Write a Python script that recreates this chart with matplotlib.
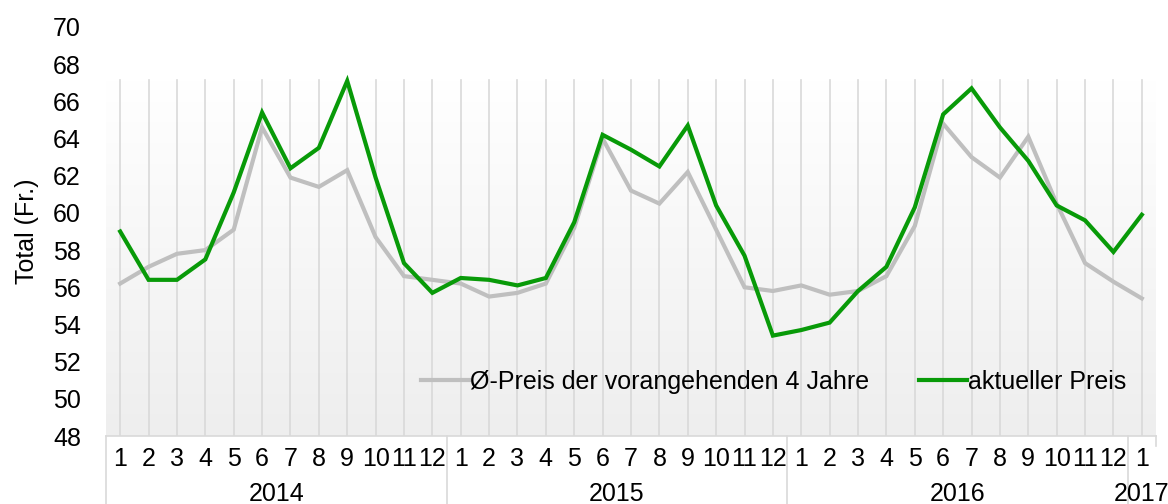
import matplotlib
matplotlib.use('Agg')
import matplotlib.pyplot as plt
import matplotlib.transforms as mtransforms
import numpy as np

# monthly values, Jan 2014 .. Jan 2017
years = ['2014', '2015', '2016', '2017']
months_per_year = [12, 12, 12, 1]
month_labels = [str(m) for n in months_per_year for m in range(1, n + 1)]

avg_price = [56.2, 57.1, 57.8, 58.0, 59.1, 64.6, 61.9, 61.4, 62.3, 58.7, 56.6, 56.4,
             56.2, 55.5, 55.7, 56.2, 59.2, 64.0, 61.2, 60.5, 62.2, 59.1, 56.0, 55.8,
             56.1, 55.6, 55.8, 56.6, 59.3, 64.8, 63.0, 61.9, 64.1, 60.5, 57.3, 56.3,
             55.4]
cur_price = [59.0, 56.4, 56.4, 57.5, 61.1, 65.4, 62.4, 63.5, 67.1, 61.9, 57.3, 55.7,
             56.5, 56.4, 56.1, 56.5, 59.5, 64.2, 63.4, 62.5, 64.7, 60.4, 57.7, 53.4,
             53.7, 54.1, 55.8, 57.1, 60.3, 65.3, 66.7, 64.6, 62.8, 60.4, 59.6, 57.9,
             59.9]

legend_labels = ['Ø-Preis der vorangehenden 4 Jahre', 'aktueller Preis']

plt.rcParams['font.family'] = ['Liberation Sans', 'DejaVu Sans']
plt.rcParams['font.size'] = 18

fig = plt.figure(figsize=(11.68, 5.04), dpi=100)
ax = fig.add_axes([106 / 1168, 68 / 504, 1050 / 1168, 409 / 504])

x = np.arange(len(month_labels))
ax.set_xlim(-0.5, len(month_labels) - 0.5)
ax.set_ylim(48, 70)

# plot-area gradient, only up to the top of the excel plot area
grad = np.linspace(0, 1, 256).reshape(-1, 1)
ax.imshow(grad, cmap=matplotlib.colors.LinearSegmentedColormap.from_list(
    'bg', ['#eeeeee', '#ffffff']), origin='lower', aspect='auto',
    extent=(0, 1, 0, 0.87), transform=ax.transAxes, zorder=0)

for xi in x:
    ax.axvline(xi, ymin=0, ymax=0.87, color='#d9d9d9', lw=1.2, zorder=1)

ax.plot(x, avg_price, color='#bfbfbf', lw=3, zorder=3, label=legend_labels[0],
        solid_joinstyle='miter')
ax.plot(x, cur_price, color='#089a08', lw=3, zorder=4, label=legend_labels[1],
        solid_joinstyle='miter')

for s in ['top', 'right', 'left']:
    ax.spines[s].set_visible(False)
ax.spines['bottom'].set_color('#d9d9d9')
ax.spines['bottom'].set_linewidth(1.2)

ax.set_yticks(np.arange(48, 71, 2))
ax.tick_params(axis='y', length=0, pad=18)
ax.set_xticks(x)
ax.set_xticklabels(month_labels)
ax.tick_params(axis='x', length=0, pad=8)

ax.set_ylabel('Total (Fr.)')
ax.yaxis.set_label_coords(-0.064, 0.5)

# year groups below the month labels
trans = mtransforms.blended_transform_factory(ax.transData, ax.transAxes)
bottom = -68 / 409
start = 0
for yr, n in zip(years, months_per_year):
    left = start - 0.5
    ax.plot([left, left], [0, bottom], transform=trans, color='#d9d9d9',
            lw=1.2, clip_on=False)
    ax.text(start + (n - 1) / 2, -58 / 409, yr, transform=trans,
            ha='center', va='center')
    start += n
ax.plot([start - 0.5, start - 0.5], [0, -10 / 409], transform=trans,
        color='#d9d9d9', lw=1.2, clip_on=False)

ax.legend(loc='center', bbox_to_anchor=(0.636, 0.132), ncol=2, frameon=False,
          handlelength=1.9, handletextpad=0.05, columnspacing=2.0,
          borderpad=0, borderaxespad=0)

fig.savefig('out.png', dpi=100)
